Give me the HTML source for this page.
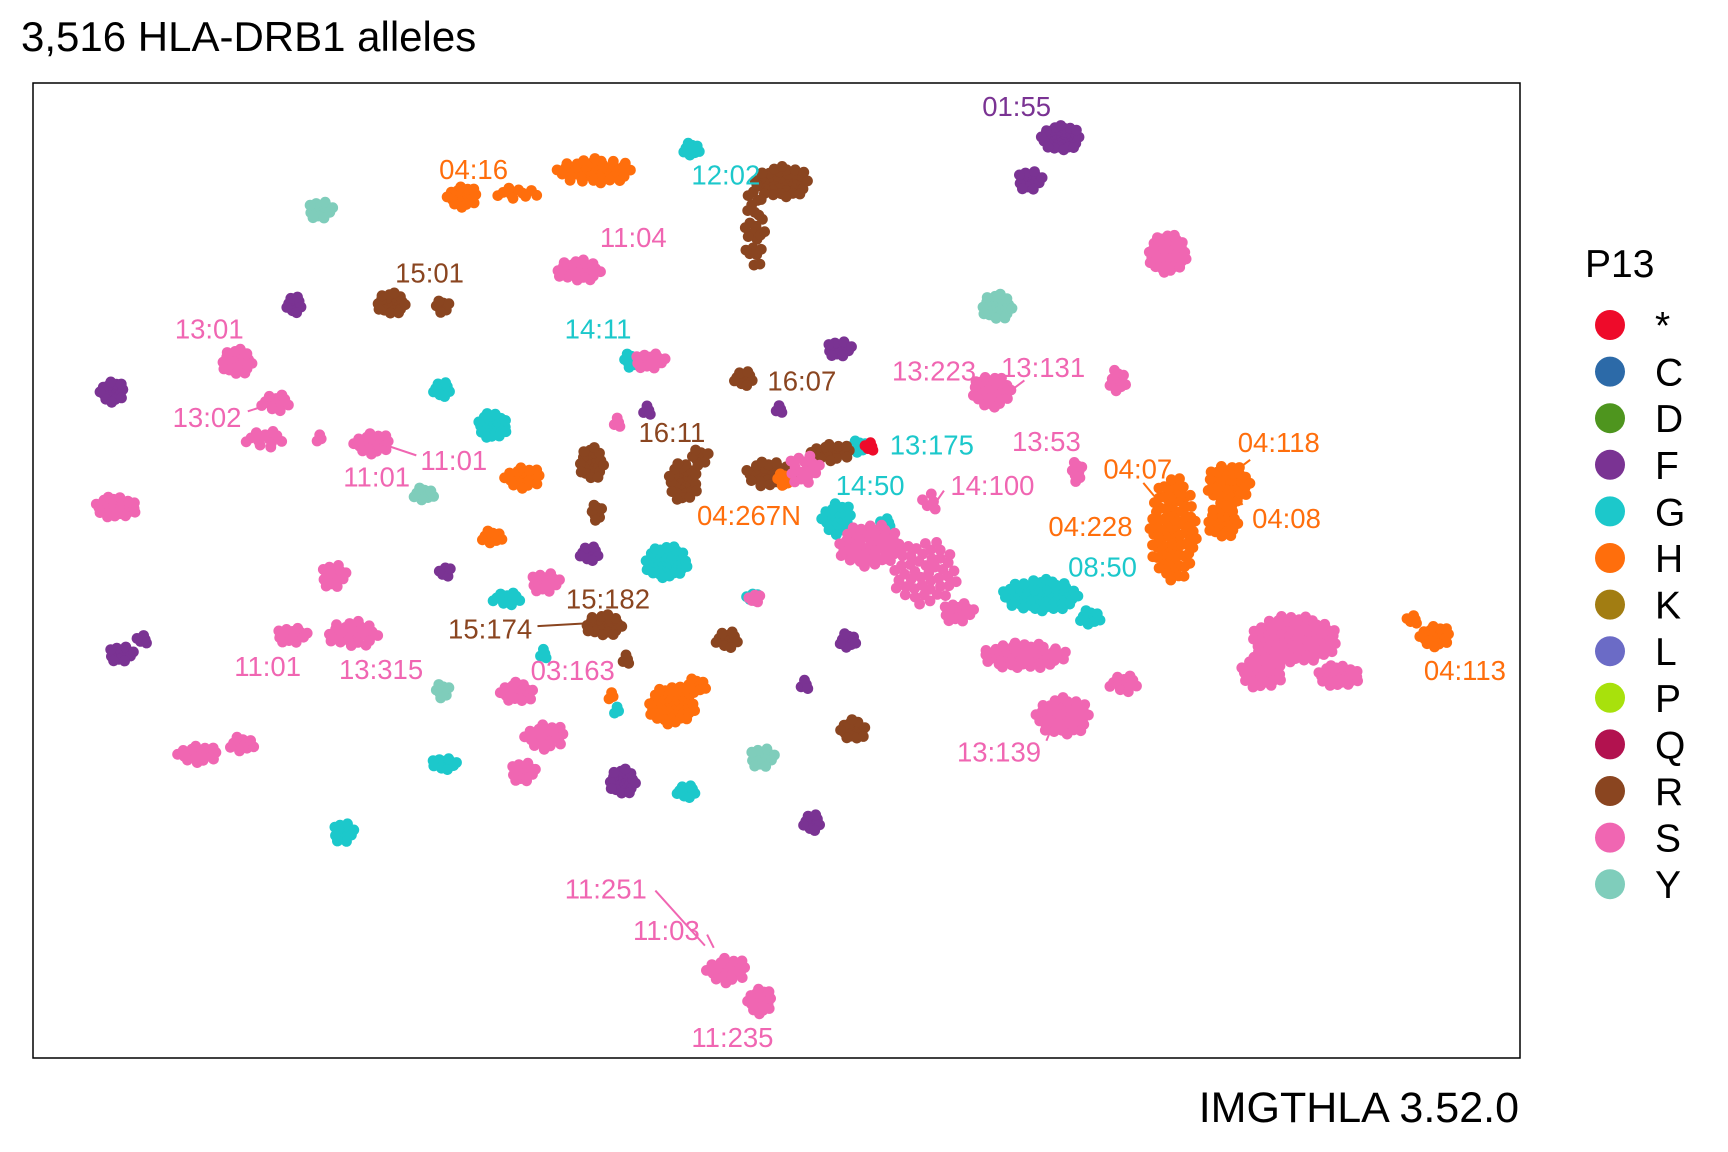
<!DOCTYPE html>
<html><head><meta charset="utf-8">
<style>
html,body{margin:0;padding:0;background:#fff;}
svg{display:block;font-family:"Liberation Sans",Arial,sans-serif;}
</style></head>
<body>
<svg id="chart" width="1728" height="1152" viewBox="0 0 1728 1152" xmlns="http://www.w3.org/2000/svg">
<rect width="1728" height="1152" fill="#fff"/>
<text x="21" y="51" font-size="42" fill="#000">3,516 HLA-DRB1 alleles</text>
<rect x="33" y="83" width="1487" height="975" fill="none" stroke="#000" stroke-width="1.5"/>
<g id="points"></g>
<g id="labels"></g>
<g id="legend"></g>
<text x="1519" y="1122" font-size="43" text-anchor="end" fill="#000">IMGTHLA 3.52.0</text>
</svg>
<script>
const categories = ["*","C","D","F","G","H","K","L","P","Q","R","S","Y"];
const catColors = {"*":"#EE0B2A","C":"#2C6AA8","D":"#4E951E","F":"#7A3393","G":"#1CC8CB","H":"#FF6E0C","K":"#A27D12","L":"#6B6BC6","P":"#A8E10C","Q":"#B2124F","R":"#8A4520","S":"#F066B2","Y":"#7FCDBB"};

const clusterCat = ["F","F","F","F","F","F","F","F","F","F","F","F","F","F","F",
 "G","G","G","G","G","G","G","G","G","G","G","G","G","G","G","G","G",
 "Y","Y","Y","Y","Y",
 "H","H","H","H","H","H","H","H","H","H","H","H","H","H",
 "R","R","R","R","R","R","R","R","R","R","R","R","R","R","R",
 "S","S","S","S","S","S","S","S","S","S","S","S","S","S","S","S","S","S","S","S","S","S","S","S","S","S","S","S","S","S","S","S","S","S","S","S",
 "*"];
const clusterX = [963,935,267,102,762,587,707,535,404,110,130,770,565,737,730,
 628,401,447,573,605,460,493,683,403,312,623,945,990,760,780,805,560,
 291,905,385,402,692,
 420,470,540,475,447,610,632,1065,1115,1110,1303,1283,712,555,
 710,685,355,402,675,537,542,620,700,755,660,548,568,775,636,
 1060,525,215,250,240,338,105,590,303,265,320,495,470,495,475,180,220,685,560,730,900,1015,978,790,840,870,930,965,1020,1175,1215,1145,660,690,845,290,
 790];
const clusterY = [125,163,276,355,316,372,371,502,519,593,580,581,709,746,621,
 135,353,386,327,510,543,593,542,693,755,718,540,560,470,405,474,645,
 190,278,448,627,687,
 178,175,155,433,487,640,622,480,440,473,577,562,435,632,
 165,205,275,278,343,420,465,437,430,410,580,567,598,662,415,
 230,245,328,365,398,402,460,327,522,576,575,528,628,668,700,684,675,543,383,425,355,345,428,495,520,555,595,650,620,580,613,610,880,908,455,398,
 405];
const clusterW = [18,12,8,12,12,6,5,10,6,12,6,8,13,9,6,
 8,9,14,8,20,15,5,6,12,10,10,35,10,15,8,6,4,
 12,15,10,8,12,
 15,20,35,18,10,22,10,22,20,15,15,6,8,4,
 25,10,14,8,10,12,6,14,25,20,12,18,5,12,10,
 18,22,15,15,20,18,20,15,12,15,25,14,16,20,12,20,12,6,5,15,18,8,6,30,30,15,40,25,15,40,20,20,20,12,8,4,
 5];
const clusterH = [12,10,8,10,8,5,4,7,6,8,5,8,12,8,5,
 7,7,12,7,15,6,5,5,6,10,6,15,8,15,6,5,4,
 9,12,7,7,10,
 10,6,12,10,7,18,8,48,20,15,10,5,6,4,
 15,40,10,6,7,15,8,18,12,8,8,10,5,10,8,
 18,10,12,8,8,10,10,8,12,8,12,10,10,12,10,8,8,5,5,15,15,12,10,20,30,10,12,18,8,22,10,15,12,12,10,4,
 5];
const clusterN = [40,15,12,20,15,4,4,12,6,15,5,10,25,12,4,
 10,12,30,8,45,12,4,6,14,15,12,60,10,20,8,5,3,
 15,25,10,8,15,
 20,10,40,20,10,45,10,80,35,25,20,5,8,3,
 40,25,25,8,12,25,8,30,30,20,12,25,4,18,8,
 45,25,25,12,12,20,30,15,15,15,25,15,18,20,15,20,10,6,4,15,35,10,8,45,45,15,50,40,12,85,30,30,20,20,5,3,
 5];

const labelText = ["01:55","04:16","12:02","11:04","15:01","13:01","14:11","13:223","13:131","16:07","13:02","16:11","13:175","13:53","04:118","11:01","11:01","04:07","14:50","14:100","04:267N","04:228","04:08","08:50","15:182","15:174","11:01","13:315","03:163","04:113","13:139","11:251","11:03","11:235"];
const labelCat = ["F","H","G","S","R","S","G","S","S","R","S","R","G","S","H","S","S","H","G","S","H","H","H","G","R","R","S","S","S","H","S","S","S","S"];
const labelX = [923,430,659,575,390,190,543,848,947,728,188,610,846,950,1161,412,342,1033,790,901,680,990,1168,1001,552,445,243,346,520,1330,907,550,605,665];
const labelY = [96,153,158,215,247,298,298,336,333,345,378,392,403,400,401,417,432,425,440,440,467,477,470,514,543,570,604,607,608,608,682,806,844,941];
const leaderCat = ["S","S","S","S","R","S","S","H","H","H","S"];
const leaderX1 = [225,378,595,642,488,857,930,1135,1038,1128,950];
const leaderY1 = [373,413,808,848,568,445,345,417,438,458,672];
const leaderX2 = [250,345,640,648,540,848,910,1118,1048,1120,955];
const leaderY2 = [365,402,858,860,565,458,360,430,450,445,660];

const NS = "http://www.w3.org/2000/svg";
function X(v){ return 33 + (v - 30) * 1.1015; }
function Y(v){ return 83 + (v - 75) * 1.1017; }

const pts = document.getElementById("points");
const order = ["Y","G","F","R","H","S","*"];
order.forEach(function(cat){
  for (let c = 0; c < clusterCat.length; c++) {
    if (clusterCat[c] !== cat) continue;
    const n = clusterN[c];
    for (let i = 0; i < n; i++) {
      const r = Math.sqrt((i + 0.5) / n);
      const th = i * 2.39996;
      const cx = clusterX[c] + clusterW[c] * r * Math.cos(th);
      const cy = clusterY[c] + clusterH[c] * r * Math.sin(th);
      const el = document.createElementNS(NS, "circle");
      el.setAttribute("cx", X(cx).toFixed(1));
      el.setAttribute("cy", Y(cy).toFixed(1));
      el.setAttribute("r", 5.4);
      el.setAttribute("fill", catColors[cat]);
      
      
      pts.appendChild(el);
    }
  }
});

const lab = document.getElementById("labels");
for (let i = 0; i < leaderX1.length; i++) {
  const l = document.createElementNS(NS, "line");
  l.setAttribute("x1", X(leaderX1[i])); l.setAttribute("y1", Y(leaderY1[i]));
  l.setAttribute("x2", X(leaderX2[i])); l.setAttribute("y2", Y(leaderY2[i]));
  l.setAttribute("stroke", catColors[leaderCat[i]]);
  l.setAttribute("stroke-width", 2);
  
  
  lab.appendChild(l);
}
for (let i = 0; i < labelText.length; i++) {
  const t = document.createElementNS(NS, "text");
  t.setAttribute("x", X(labelX[i]));
  t.setAttribute("y", Y(labelY[i]) + 10);
  t.setAttribute("text-anchor", "middle");
  t.setAttribute("font-size", "27.5");
  t.setAttribute("fill", catColors[labelCat[i]]);
  t.textContent = labelText[i];
  
  
  lab.appendChild(t);
}

const leg = document.getElementById("legend");
const lt = document.createElementNS(NS, "text");
lt.setAttribute("x", 1585); lt.setAttribute("y", 277);
lt.setAttribute("font-size", "39"); lt.textContent = "P13";


leg.appendChild(lt);
categories.forEach(function(cat, i){
  const y = 325 + i * 46.6;
  const c = document.createElementNS(NS, "circle");
  c.setAttribute("cx", 1610); c.setAttribute("cy", y); c.setAttribute("r", 15);
  c.setAttribute("fill", catColors[cat]);
  
  
  leg.appendChild(c);
  const t = document.createElementNS(NS, "text");
  t.setAttribute("x", 1655); t.setAttribute("y", y + 14);
  t.setAttribute("font-size", "39"); t.textContent = cat;
  
  
  leg.appendChild(t);
});
</script>
</body></html>
